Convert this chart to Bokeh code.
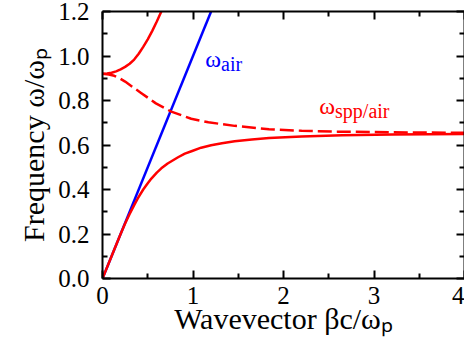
from bokeh.plotting import figure
from bokeh.models import Range1d, LinearAxis, FixedTicker, PrintfTickFormatter, Label
from bokeh.embed import file_html
from bokeh.resources import INLINE

# Light line in air
air_beta = [0.0, 1.2]
air_omega = [0.0, 1.2]

# Surface plasmon polariton, bound (lower) branch
spp_beta = [0.0, 0.1, 0.2, 0.25, 0.3, 0.35, 0.39, 0.45, 0.5, 0.54, 0.6, 0.65, 0.72,
            0.835, 0.91, 0.983, 1.09, 1.2, 1.32, 1.46, 1.65, 1.84, 2.2, 2.65, 3.2, 4.0]
spp_omega = [0.0, 0.1, 0.2, 0.247, 0.29, 0.33, 0.36, 0.4, 0.428, 0.449, 0.476, 0.495,
             0.517, 0.545, 0.561, 0.572, 0.588, 0.599, 0.608, 0.617, 0.625, 0.631,
             0.638, 0.644, 0.647, 0.649]

# Imaginary part of the wavevector between the two branches (dashed)
gap_beta = [0.0, 0.07, 0.13, 0.19, 0.25, 0.35, 0.43, 0.59, 0.76, 0.98, 1.17, 1.46,
            1.84, 2.2, 2.6, 3.2, 4.0]
gap_omega = [0.92, 0.917, 0.911, 0.9, 0.885, 0.856, 0.833, 0.787, 0.75, 0.718, 0.702,
             0.686, 0.671, 0.664, 0.66, 0.657, 0.655]

# Radiative (upper) branch
rad_beta = [0.0, 0.05, 0.1, 0.15, 0.2, 0.25, 0.3, 0.35, 0.4, 0.45, 0.5, 0.55, 0.6, 0.65]
rad_omega = [0.92, 0.921, 0.925, 0.931, 0.94, 0.951, 0.965, 0.984, 1.01, 1.041, 1.075,
             1.113, 1.155, 1.2]

x_ticks = [0, 1, 2, 3, 4]
x_minor = [0.5, 1.5, 2.5, 3.5]
y_ticks = [0.0, 0.2, 0.4, 0.6, 0.8, 1.0, 1.2]
y_minor = [0.1, 0.3, 0.5, 0.7, 0.9, 1.1]

FONT = "'Liberation Serif', serif"
RED = "#ff0000"
BLUE = "#0000ff"

p = figure(width=464, height=344, output_backend="svg", toolbar_location=None,
           x_range=Range1d(x_ticks[0], x_ticks[-1]), y_range=Range1d(y_ticks[0], y_ticks[-1]),
           min_border_left=102, min_border_right=0, min_border_top=11, min_border_bottom=66,
           x_axis_location=None, y_axis_location=None)
p.grid.visible = False
p.outline_line_color = None
p.background_fill_color = "white"
p.border_fill_color = "white"


def make_axis(ticks, minor, fmt, show_labels):
    ax = LinearAxis(ticker=FixedTicker(ticks=ticks, minor_ticks=minor),
                    formatter=PrintfTickFormatter(format=fmt))
    ax.axis_line_width = 2
    ax.axis_line_color = "black"
    ax.major_tick_in = 8
    ax.major_tick_out = 0
    ax.minor_tick_in = 5
    ax.minor_tick_out = 0
    ax.major_tick_line_width = 2
    ax.minor_tick_line_width = 2
    ax.major_label_text_font = FONT
    ax.major_label_text_color = "black"
    ax.axis_label_text_font = FONT
    ax.axis_label_text_font_style = "normal"
    ax.axis_label_text_color = "black"
    ax.axis_label_text_font_size = "30px"
    if show_labels:
        ax.major_label_text_font_size = "25px"
    else:
        ax.major_label_text_font_size = "0px"
        ax.major_label_text_color = None
        ax.major_label_standoff = 0
        ax.axis_label_standoff = 0
    return ax


bottom = make_axis(x_ticks, x_minor, "%d", True)
bottom.major_label_standoff = 8
bottom.axis_label = "Wavevector βc/ωₚ"
bottom.axis_label_standoff = -5
left = make_axis(y_ticks, y_minor, "%.1f", True)
left.major_label_standoff = 13
left.axis_label = "Frequency ω/ωₚ"
left.axis_label_standoff = 5
top = make_axis(x_ticks, x_minor, "%d", False)
right = make_axis(y_ticks, y_minor, "%.1f", False)
p.add_layout(bottom, "below")
p.add_layout(left, "left")
p.add_layout(top, "above")
p.add_layout(right, "right")

p.line(air_beta, air_omega, line_color=BLUE, line_width=2.5)
p.line(rad_beta, rad_omega, line_color=RED, line_width=2.5)
p.line(spp_beta, spp_omega, line_color=RED, line_width=2.5)
p.line(gap_beta, gap_omega, line_color=RED, line_width=2.5, line_dash="14 5")


def label(x, y, text, size, color, align="left"):
    p.add_layout(Label(x=x, y=y, text=text, text_font=FONT, text_font_size=size,
                       text_color=color, text_align=align, text_baseline="alphabetic"))


# Curve annotations: omega with a subscript
label(1.31, 0.988, "ω", "24px", BLUE, "right")
label(1.31, 0.966, "air", "20px", BLUE)
label(2.57, 0.777, "ω", "24px", RED, "right")
label(2.57, 0.755, "spp/air", "20px", RED)

open("out.html", "w").write(file_html(p, INLINE))
